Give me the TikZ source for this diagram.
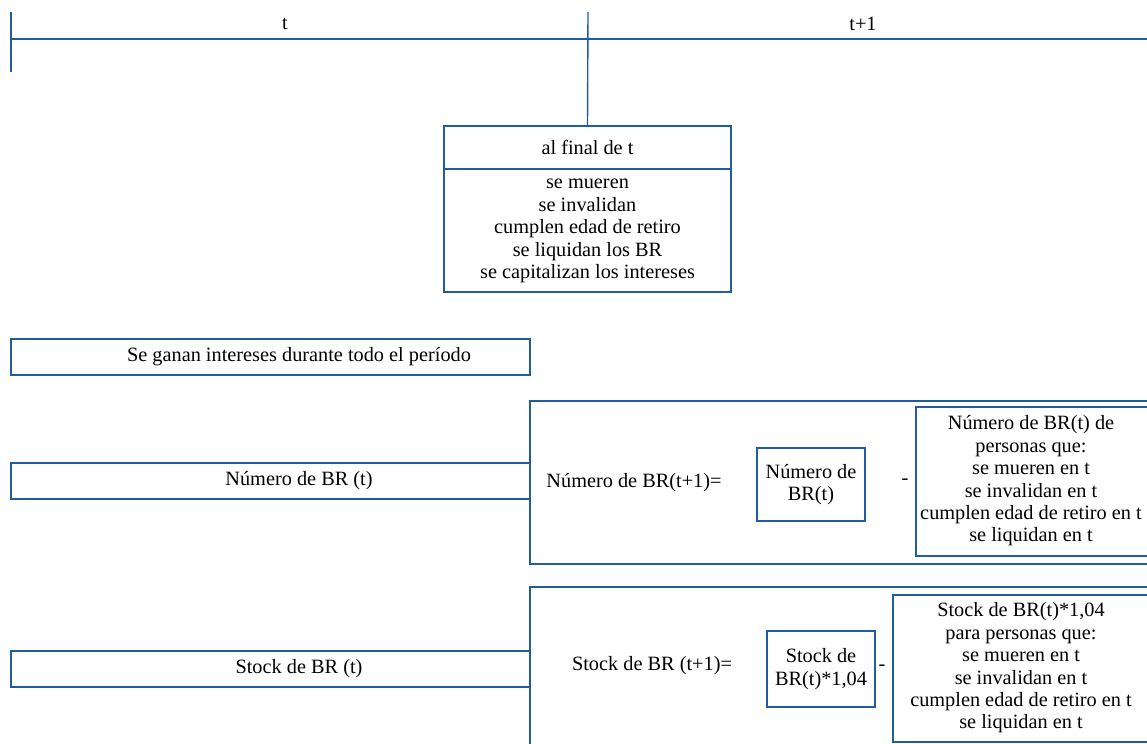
\documentclass[tikz,border=0pt]{standalone}
\usepackage{fontspec}
\setmainfont{Liberation Serif}
\usetikzlibrary{fit}
\definecolor{blueline}{RGB}{32,92,164}
\begin{document}
\begin{tikzpicture}[x=0.5pt,y=-0.5pt,
  ln/.style={draw=blueline,line width=0.7pt},
  box/.style={draw=blueline,line width=0.7pt,inner sep=0pt,outer sep=0pt},
  txt/.style={font=\fontsize{10.15pt}{11.2pt}\selectfont,align=center,inner sep=0pt,text=black}]
\useasboundingbox (0,0) rectangle (1147,744);
\clip (0,0) rectangle (1147,744);
% timeline
\coordinate (tl) at (10,39);
\coordinate (tr) at (1147,39);
\coordinate (lt1) at (11,12);
\coordinate (lt2) at (11,72);
\coordinate (mt1) at (588,12);
\draw[ln] (tl) -- (tr);
\draw[ln] (lt1) -- (lt2);
\node[txt] (tlab) at (285,24) {t};
\node[txt] (t1lab) at (863,24) {t+1};
% final box
\node[box,fit={(444,126) (731,292)}] (final) {};
\coordinate (divl) at (444,169);
\coordinate (divr) at (731,169);
\draw[ln] (divl) -- (divr);
\draw[ln] (mt1) -- (final.north);
\node[txt] (ftitle) at (587.5,147.5) {al final de t};
\node[txt] (fbody) at (587.5,231) {se mueren\\se invalidan\\cumplen edad de retiro\\se liquidan los BR\\se capitalizan los intereses};
% left boxes
\node[box,fit={(11,339) (530,375)}] (gan) {};
\node[txt] (gantxt) at (299,357) {Se ganan intereses durante todo el período};
\node[box,fit={(11,463) (530,499)}] (num) {};
\node[txt] (numtxt) at (299,481) {Número de BR (t)};
\node[box,fit={(11,651) (530,687)}] (stk) {};
\node[txt] (stktxt) at (299,669) {Stock de BR (t)};
% big boxes
\node[box,fit={(530,401) (1165,564)}] (big1) {};
\node[box,fit={(530,587) (1165,770)}] (big2) {};
% section 1
\node[txt] (eq1) at (634,483) {Número de BR(t+1)=};
\node[box,fit={(757,448) (865,521)}] (nb) {};
\node[txt] at (nb.center) {Número de\\BR(t)};
\node[txt] (m1) at (905,482) {-};
\node[box,fit={(916,407) (1148,556)}] (rb1) {};
\node[txt] at (1031,481) {Número de BR(t) de\\personas que:\\se mueren en t\\se invalidan en t\\cumplen edad de retiro en t\\se liquidan en t};
% section 2
\node[txt] (eq2) at (652,666) {Stock de BR (t+1)=};
\node[box,fit={(767,631) (875,707)}] (sb) {};
\node[txt] at (sb.center) {Stock de\\BR(t)*1,04};
\node[txt] (m2) at (882,668) {-};
\node[box,fit={(893,595) (1149,742)}] (rb2) {};
\node[txt] at (1021,668) {Stock de BR(t)*1,04\\para personas que:\\se mueren en t\\se invalidan en t\\cumplen edad de retiro en t\\se liquidan en t};
\end{tikzpicture}
\end{document}
